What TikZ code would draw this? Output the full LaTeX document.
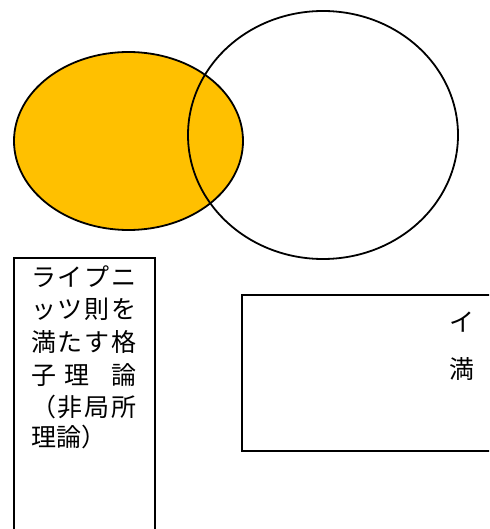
\documentclass[tikz,border=0pt]{standalone}
\usepackage{fontspec}
\newfontfamily\jp{Noto Sans CJK JP}
\usetikzlibrary{shapes.geometric}
\definecolor{venorange}{HTML}{FFC000}
\tikzset{
  venn/.style={ellipse, draw=black, line width=1.8pt, inner sep=0pt},
  boxline/.style={draw=black, line width=1.8pt},
  jtext/.style={anchor=west, inner sep=0pt, font=\jp\fontsize{25pt}{30pt}\selectfont}
}
\begin{document}
\begin{tikzpicture}[x=1pt,y=-1pt]
\useasboundingbox (0,0) rectangle (489,529);
\clip (0,0) rectangle (489,529);
\fill[white] (0,0) rectangle (489,529);
% Venn ellipses
\node[venn, fill=venorange, minimum width=229pt, minimum height=178pt] (left) at (128.5,141) {};
\node[venn, minimum width=270pt, minimum height=248pt] (right) at (323,135) {};
% left box
\coordinate (lbA) at (14,258);
\coordinate (lbB) at (155,540);
\draw[boxline] (lbA) rectangle (lbB);
\node[jtext] (l1) at (31,277) {\makebox[105pt]{ラ\hfill イ\hfill プ\hfill ニ}};
\node[jtext] (l2) at (31,309) {\makebox[105pt]{ッ\hfill ツ\hfill 則\hfill を}};
\node[jtext] (l3) at (31,342) {\makebox[105pt]{満\hfill た\hfill す\hfill 格}};
\node[jtext] (l4) at (31,375) {\makebox[105pt]{子\hspace{8pt}理\hfill 論}};
\node[jtext] (l5) at (31,407) {\makebox[105pt]{（\hfill 非\hfill 局\hfill 所}};
\node[jtext] (l6) at (31,437) {理論）};
% right box
\coordinate (rbA) at (242,295);
\coordinate (rbB) at (500,451);
\draw[boxline] (rbA) rectangle (rbB);
\node[jtext] (r1) at (449,322) {イ};
\node[jtext] (r2) at (449,369) {満};
\end{tikzpicture}
\end{document}
